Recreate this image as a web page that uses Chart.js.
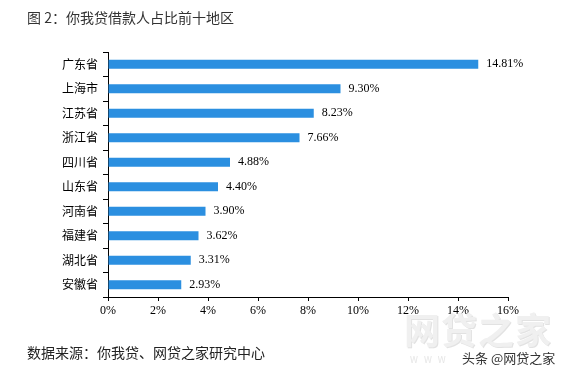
<!DOCTYPE html>
<html>
<head>
<meta charset="utf-8">
<script src="https://cdn.jsdelivr.net/npm/chart.js@4"></script>
<style>
  body { margin: 0; background: #fff; }
  #wrap { position: relative; width: 579px; height: 376px; overflow: hidden; }
  canvas { position: absolute; left: 0; top: 0; }
  .txt { position: absolute; white-space: nowrap; font-family: "Noto Sans CJK SC", sans-serif; line-height: 20px; }
</style>
</head>
<body>
<div id="wrap">
  <canvas id="chart" width="579" height="376"></canvas>
  <div class="txt" style="left:27px;top:7px;font-size:14px;color:#333;">图 2：你我贷借款人占比前十地区</div>
  <div class="txt" style="left:27px;top:342px;font-size:14px;color:#222;">数据来源：你我贷、网贷之家研究中心</div>
  <div class="txt" style="left:404px;top:306px;font-size:36px;line-height:44px;font-weight:bold;color:#f0f0f0;text-shadow:1px 1px 0 #e2e2e2;letter-spacing:1px;">网贷之家</div>
  <div class="txt" style="left:410px;top:350px;font-size:9px;color:#e6e6e6;letter-spacing:6px;">WWW</div>
  <div class="txt" style="left:462px;top:348px;font-size:13px;color:#333;">头条 @网贷之家</div>
</div>
<script>
// dados
var regioes = ['广东省', '上海市', '江苏省', '浙江省', '四川省', '山东省', '河南省', '福建省', '湖北省', '安徽省'];
var percentuais = [14.81, 9.30, 8.23, 7.66, 4.88, 4.40, 3.90, 3.62, 3.31, 2.93];
var eixoX = [0, 2, 4, 6, 8, 10, 12, 14, 16];

// escreve o valor ao lado de cada barra
var rotulos = {
  id: 'rotulos',
  afterDatasetsDraw: function(chart){
    var ctx = chart.ctx;
    var meta = chart.getDatasetMeta(0);
    ctx.save();
    ctx.font = '12px "Liberation Serif", serif';
    ctx.fillStyle = '#000';
    ctx.textBaseline = 'middle';
    ctx.textAlign = 'left';
    meta.data.forEach(function(bar, i){
      ctx.fillText(percentuais[i].toFixed(2) + '%', bar.x + 8, bar.y);
    });
    ctx.restore();
  }
};

new Chart(document.getElementById('chart'), {
  type: 'bar',
  data: {
    labels: regioes,
    datasets: [{
      data: percentuais,
      backgroundColor: '#2B8FE0',
      barPercentage: 0.36,
      categoryPercentage: 1
    }]
  },
  options: {
    indexAxis: 'y',
    responsive: false,
    animation: false,
    layout: { padding: { left: 0, top: 52, right: 71, bottom: 0 } },
    plugins: { legend: { display: false }, tooltip: { enabled: false } },
    scales: {
      x: {
        min: 0,
        max: 16,
        afterFit: function(scale){ scale.height = 79; },
        afterBuildTicks: function(scale){
          scale.ticks = eixoX.map(function(v){ return { value: v }; });
        },
        grid: { drawOnChartArea: false, tickLength: 4, color: '#000' },
        border: { color: '#000', width: 1 },
        ticks: {
          color: '#000',
          padding: 3,
          maxRotation: 0,
          font: { family: '"Liberation Serif", serif', size: 12 },
          callback: function(v){ return v + '%'; }
        }
      },
      y: {
        afterFit: function(scale){ scale.width = 108; },
        grid: { drawOnChartArea: false, offset: true, tickLength: 5, color: '#000' },
        border: { color: '#000', width: 1 },
        ticks: {
          color: '#000',
          padding: 5,
          font: { family: '"Noto Sans CJK SC", sans-serif', size: 12 }
        }
      }
    }
  },
  plugins: [rotulos]
});
</script>
</body>
</html>
